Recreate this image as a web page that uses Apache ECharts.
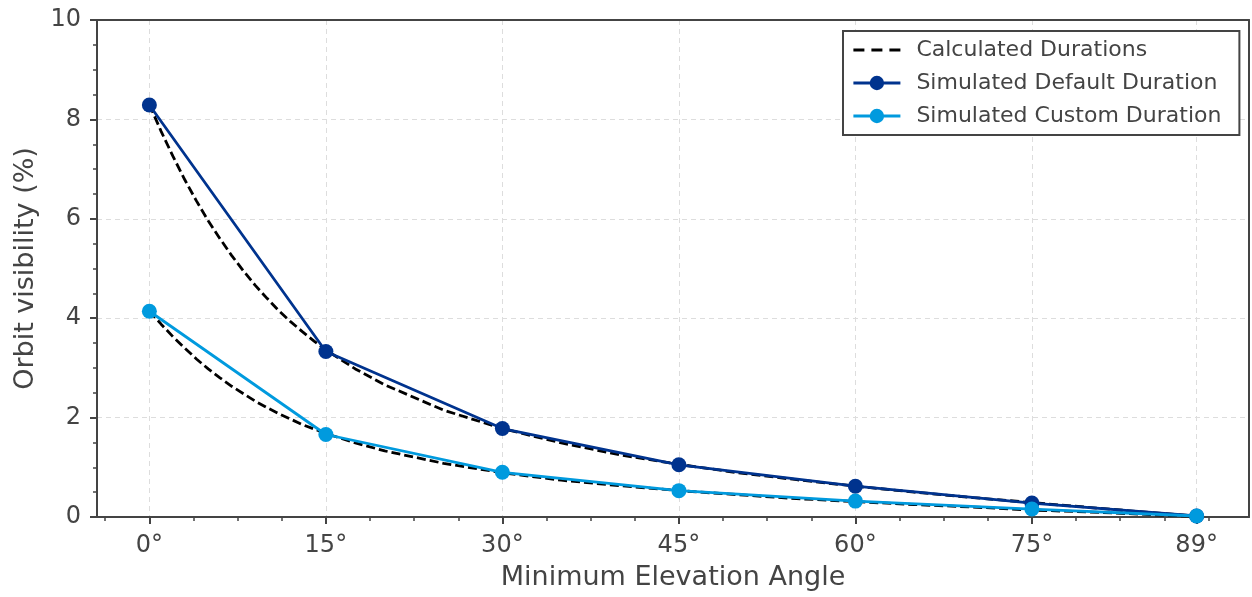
<!DOCTYPE html>
<html>
<head>
<meta charset="utf-8">
<script src="https://cdn.jsdelivr.net/npm/echarts@6/dist/echarts.min.js"></script>
<style>
  html, body { margin: 0; padding: 0; background: #fff; }
  #chart { width: 1252px; height: 597px; }
</style>
</head>
<body>
<div id="chart"></div>
<script>
// elevation angles (deg) of the simulated points
const simAngles = [0, 15, 30, 45, 60, 75, 89];
const simDefault = [8.29, 3.33, 1.78, 1.05, 0.62, 0.28, 0.02];
const simCustom = [4.14, 1.66, 0.90, 0.53, 0.32, 0.16, 0.02];

// calculated (dashed) curves
const calcAngles = [0, 1, 2, 3, 4, 5, 6, 7, 8, 9, 10, 11, 12, 13, 14, 15, 17.5, 20, 25, 30, 35, 40, 45, 50, 55, 60, 65, 70, 75, 80, 85, 89];
const calcDefault = [8.30, 7.76, 7.26, 6.79, 6.36, 5.96, 5.60, 5.26, 4.95, 4.66, 4.40, 4.15, 3.93, 3.73, 3.54, 3.36, 2.98, 2.66, 2.15, 1.78, 1.49, 1.25, 1.06, 0.89, 0.75, 0.62, 0.50, 0.39, 0.29, 0.19, 0.09, 0.02];
const calcCustom = [4.15, 3.88, 3.63, 3.40, 3.18, 2.98, 2.80, 2.63, 2.48, 2.33, 2.20, 2.08, 1.97, 1.86, 1.77, 1.68, 1.49, 1.33, 1.08, 0.89, 0.74, 0.63, 0.53, 0.45, 0.37, 0.31, 0.25, 0.20, 0.14, 0.10, 0.05, 0.01];

// axis ticks
const xMajorTicks = [0, 15, 30, 45, 60, 75, 89];
const xMinorTicks = [-3.75, 3.75, 7.5, 11.25, 18.75, 22.5, 26.25, 33.75, 37.5, 41.25, 48.75, 52.5, 56.25, 63.75, 67.5, 71.25, 78.75, 82.5, 86.25, 90];

const textColor = '#444444';
const axisColor = '#444444';
const font = 'DejaVu Sans';
const darkBlue = '#00338e';
const lightBlue = '#009ade';
const lineW = 2.8;

// legend glyph for the dashed line: three dashes, full-height extents kept
const dashIcon = 'path://M0,0L0,0M47,18L47,18' +
  'M0,7.6H11V10.4H0ZM18,7.6H29V10.4H18ZM36,7.6H47V10.4H36Z';

function zip(xs, ys) {
  return xs.map((x, i) => [x, ys[i]]);
}

var chart = echarts.init(document.getElementById('chart'), null, { renderer: 'canvas' });

var gridLine = { show: true, lineStyle: { color: '#dddddd', width: 1, type: [5, 4] } };

// top / right spines only
var spineAxis = {
  type: 'value', min: 0, max: 1,
  axisLine: { show: true, onZero: false, lineStyle: { color: axisColor, width: 2 } },
  axisTick: { show: false }, axisLabel: { show: false }, splitLine: { show: false }
};

var option = {
  animation: false,
  backgroundColor: '#ffffff',
  textStyle: { fontFamily: font },
  grid: { left: 97, right: 3, top: 20, bottom: 80 },
  legend: {
    orient: 'vertical',
    left: 843, top: 31,
    padding: [8, 18, 8, 9],
    itemWidth: 47, itemHeight: 18, itemGap: 11,
    backgroundColor: '#ffffff',
    borderColor: axisColor, borderWidth: 2, borderRadius: 0,
    lineStyle: { width: lineW },
    textStyle: { fontFamily: font, fontSize: 22, color: textColor, padding: [0, 0, 0, 11] },
    data: [
      { name: 'Calculated Durations', icon: dashIcon, itemStyle: { color: '#000000' } },
      'Simulated Default Duration',
      'Simulated Custom Duration'
    ]
  },
  xAxis: [
    {
      type: 'value', min: -4.45, max: 93.45,
      name: 'Minimum Elevation Angle', nameLocation: 'middle', nameGap: 47,
      nameTextStyle: { fontFamily: font, fontSize: 27, color: textColor },
      axisLine: { show: true, onZero: false, lineStyle: { color: axisColor, width: 2 } },
      axisTick: { show: true, length: 7, lineStyle: { color: axisColor, width: 2 }, customValues: xMajorTicks },
      axisLabel: {
        customValues: xMajorTicks, margin: 17,
        fontFamily: font, fontSize: 24, color: textColor,
        formatter: v => v + '°'
      },
      splitLine: gridLine
    },
    {
      type: 'value', min: -4.45, max: 93.45, position: 'bottom',
      axisLine: { show: false },
      axisTick: { show: true, length: 4, lineStyle: { color: axisColor, width: 1.5 }, customValues: xMinorTicks },
      axisLabel: { show: false },
      splitLine: { show: false }
    },
    Object.assign({ position: 'top' }, spineAxis)
  ],
  yAxis: [
    {
      type: 'value', min: 0, max: 10, interval: 2,
      name: 'Orbit visibility (%)', nameLocation: 'middle', nameGap: 55,
      nameTextStyle: { fontFamily: font, fontSize: 27, color: textColor },
      axisLine: { show: true, onZero: false, lineStyle: { color: axisColor, width: 2 } },
      axisTick: { show: true, length: 7, lineStyle: { color: axisColor, width: 2 } },
      minorTick: { show: true, splitNumber: 4, length: 4, lineStyle: { color: axisColor, width: 1.5 } },
      axisLabel: { margin: 16, fontFamily: font, fontSize: 24, color: textColor },
      splitLine: gridLine
    },
    Object.assign({ position: 'right' }, spineAxis)
  ],
  series: [
    {
      name: 'Calculated Durations', type: 'line',
      data: zip(calcAngles, calcDefault),
      showSymbol: false, symbol: 'none',
      lineStyle: { color: '#000000', width: lineW, type: [9, 4] },
      itemStyle: { color: '#000000' },
      z: 2
    },
    {
      name: 'Calculated Durations', type: 'line',
      data: zip(calcAngles, calcCustom),
      showSymbol: false, symbol: 'none',
      lineStyle: { color: '#000000', width: lineW, type: [9, 4] },
      itemStyle: { color: '#000000' },
      z: 2
    },
    {
      name: 'Simulated Default Duration', type: 'line',
      data: zip(simAngles, simDefault),
      symbol: 'circle', symbolSize: 15,
      lineStyle: { color: darkBlue, width: lineW },
      itemStyle: { color: darkBlue },
      z: 3
    },
    {
      name: 'Simulated Custom Duration', type: 'line',
      data: zip(simAngles, simCustom),
      symbol: 'circle', symbolSize: 15,
      lineStyle: { color: lightBlue, width: lineW },
      itemStyle: { color: lightBlue },
      z: 4
    }
  ]
};

chart.setOption(option);
</script>
</body>
</html>
